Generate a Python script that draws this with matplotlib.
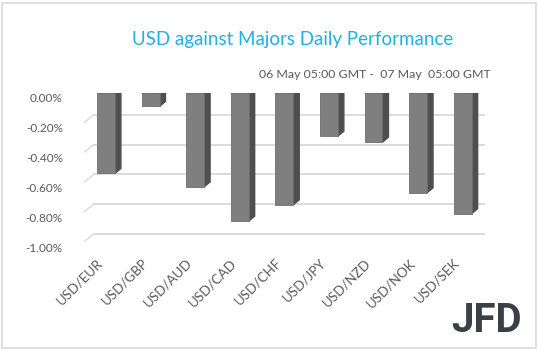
import matplotlib
matplotlib.use("Agg")
import matplotlib.pyplot as plt
from matplotlib.patches import Rectangle
from matplotlib.transforms import ScaledTranslation

# USD vs majors, % change 06 May 05:00 -> 07 May 05:00 GMT
pairs = ["USD/EUR", "USD/GBP", "USD/AUD", "USD/CAD", "USD/CHF",
         "USD/JPY", "USD/NZD", "USD/NOK", "USD/SEK"]
perf = [-0.54, -0.09, -0.63, -0.86, -0.75, -0.29, -0.33, -0.67, -0.81]
yticks = [0.0, -0.2, -0.4, -0.6, -0.8, -1.0]
ytick_labels = ["0.00%", "-0.20%", "-0.40%", "-0.60%", "-0.80%", "-1.00%"]

W, H = 538, 351
fig = plt.figure(figsize=(W / 100, H / 100), dpi=100)
fig.patch.set_facecolor("white")
fig.patches.append(Rectangle((2 / W, 3 / H), 534 / W, 345 / H, transform=fig.transFigure,
                             fill=False, edgecolor="#d9d9d9", lw=1.2))

# axes in pixel terms (bar plane)
left, right, top, bottom = 83.7, 485.0, 93.0, 242.0
ax = fig.add_axes([left / W, 1 - bottom / H, (right - left) / W, (bottom - top) / H])
ax.set_xlim(-0.5, 8.5)
ax.set_ylim(-1.0, 0.0)
ax.set_facecolor("none")
for s in ax.spines.values():
    s.set_visible(False)

font = "Lato"
grey_txt = "#595959"

# back wall grid + left side diagonals
back = ax.transData + ScaledTranslation(10 / 100, 8 / 100, fig.dpi_scale_trans)
front = ax.transData + ScaledTranslation(-5 / 100, -4 / 100, fig.dpi_scale_trans)
for v in yticks:
    ax.plot([-0.5, 8.5], [v, v], color="#d9d9d9", lw=1.3, transform=back, zorder=0)
    p0 = front.transform((-0.5, v))
    p1 = back.transform((-0.5, v))
    ax.plot([p0[0], p1[0]], [p0[1], p1[1]], color="#d9d9d9", lw=1.0,
            transform=None, zorder=0)

# pseudo 3D bars
w = 0.40
dx = 6 / 44.6
dy = 5 / 149.0
for i, v in enumerate(perf):
    x0, x1 = i - w / 2, i + w / 2
    ax.fill([x1, x1, x1 + dx, x1 + dx], [0, v, v + dy, dy], color="#4f4f4f", zorder=2)
    ax.fill([x0, x1, x1 + dx, x0 + dx], [0, 0, dy, dy], color="#575757", zorder=2)
    ax.bar(i, v, width=w, color="#7f7f7f", edgecolor="#6e6e6e", lw=0.6, zorder=3)

ax.set_yticks(yticks)
ax.set_yticklabels(ytick_labels, fontsize=8.5, color=grey_txt, family=font)
ax.set_xticks(range(len(pairs)))
ax.set_xticklabels(pairs, fontsize=9.6, color=grey_txt, family=font, rotation=45,
                   ha="right", va="center", rotation_mode="anchor")
ax.tick_params(length=0)
ax.tick_params(axis="y", pad=15)
ax.tick_params(axis="x", pad=12)
for lbl in ax.get_yticklabels():
    lbl.set_transform(lbl.get_transform() + ScaledTranslation(0, -5 / 100, fig.dpi_scale_trans))
for lbl in ax.get_xticklabels():
    lbl.set_transform(lbl.get_transform() + ScaledTranslation(-5 / 100, -2 / 100, fig.dpi_scale_trans))

fig.text(293 / W, 1 - 40 / H, "USD against Majors Daily Performance", ha="center",
         va="center", fontsize=13.5, color="#21b1dd", family=font)
fig.text(491 / W, 1 - 75 / H, "06 May 05:00 GMT -  07 May  05:00 GMT", ha="right",
         va="center", fontsize=8.9, color=grey_txt, family=font)
fig.text(522 / W, 1 - 321 / H, "JFD", ha="right", va="center", fontsize=29,
         fontweight="bold", color="#3b4048", family="Roboto")

fig.savefig("out.png", dpi=100, facecolor="white")
